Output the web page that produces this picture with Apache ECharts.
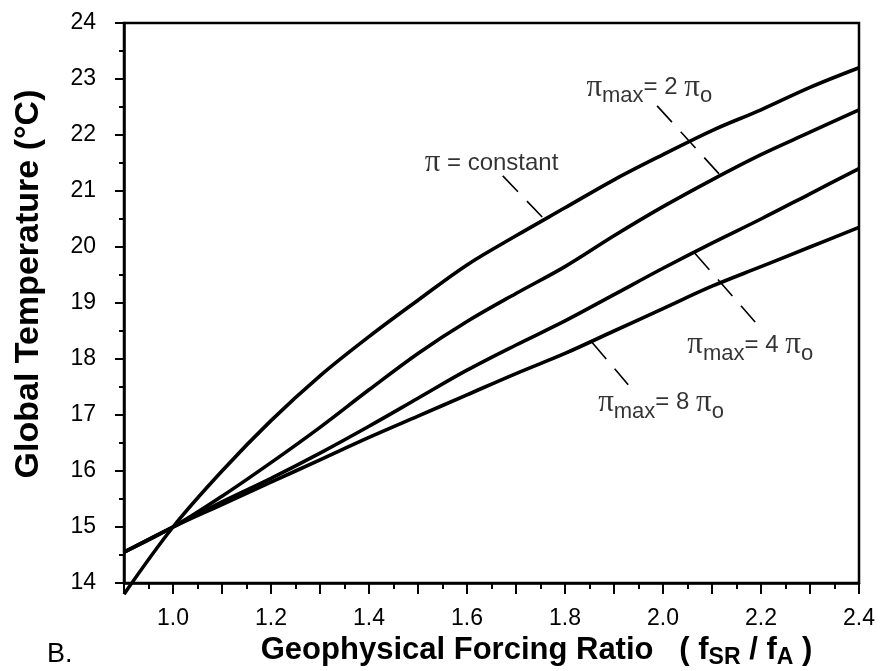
<!DOCTYPE html>
<html><head><meta charset="utf-8">
<script src="https://cdn.jsdelivr.net/npm/echarts@6/dist/echarts.min.js"></script>
<style>html,body{margin:0;padding:0;background:#fff}#c{width:880px;height:671px}</style>
</head><body><div id="c"></div>
<script>
// Geophysical forcing ratio (x)
const ratio = [0.9,1.0,1.1,1.2,1.3,1.4,1.5,1.6,1.7,1.8,1.9,2.0,2.1,2.2,2.3,2.4];
// Global temperature (°C) for each case
const piConstant = [13.8,15.0,16.0,16.9,17.7,18.4,19.05,19.68,20.2,20.7,21.2,21.65,22.08,22.45,22.85,23.2];
const piMax2 = [14.55,15.0,15.55,16.15,16.78,17.45,18.1,18.67,19.17,19.65,20.2,20.72,21.2,21.65,22.05,22.45];
const piMax4 = [14.55,15.0,15.45,15.87,16.32,16.8,17.3,17.8,18.25,18.68,19.15,19.62,20.07,20.5,20.95,21.4];
const piMax8 = [14.55,15.0,15.4,15.8,16.2,16.6,16.98,17.36,17.74,18.1,18.5,18.9,19.3,19.65,20.0,20.35];

// Annotation texts and their anchor points (data coordinates)
const labelTexts = ['{p|π}{t| = constant}', '{p|π}{s|max}{t|= 2 }{p|π}{s|o}', '{p|π}{s|max}{t|= 4 }{p|π}{s|o}', '{p|π}{s|max}{t|= 8 }{p|π}{s|o}'];
const labelAnchors = [[1.65,21.5],[1.972,22.85],[2.178,18.25],[1.996,17.22]];
// Dashed leader lines (data coordinates)
const pointers = [
  [[1.673,21.27],[1.755,20.52]],
  [[1.988,22.52],[2.116,21.29]],
  [[2.065,19.89],[2.188,18.66]],
  [[1.855,18.30],[1.929,17.54]]
];

const FONT = "'Liberation Sans', Arial, Helvetica, sans-serif";
const chart = echarts.init(document.getElementById('c'), null, {renderer:'canvas'});

function curve(vals){
  return {
    type:'line', data: ratio.map((x,i)=>[x, vals[i]]), smooth:0.35, symbol:'none', clip:false,
    lineStyle:{color:'#000', width:3.6}, silent:true, z:3
  };
}
const series = [curve(piConstant), curve(piMax2), curve(piMax4), curve(piMax8)];
pointers.forEach(p=>{
  series.push({type:'line', data:p, symbol:'none', silent:true, z:2,
    lineStyle:{color:'#000', width:1.6, type:[22,13]}});
});
series.push({
  type:'scatter', symbolSize:1, itemStyle:{color:'rgba(0,0,0,0)'}, silent:true, z:4,
  data: labelAnchors.map((a,i)=>({value:a, label:{formatter: labelTexts[i]}})),
  label:{
    show:true, position:'inside', color:'#000', fontFamily:FONT,
    rich:{
      p:{fontFamily:"'Liberation Serif','DejaVu Serif',serif", fontSize:31, color:'#000'},
      s:{fontFamily:FONT, fontSize:22, padding:[18,0,0,0], color:'#000'},
      t:{fontFamily:FONT, fontSize:24, color:'#000'}
    }
  }
});

chart.setOption({
  animation:false,
  backgroundColor:'#fff',
  title:{text:'B.', left:42, top:636, textStyle:{fontFamily:FONT, fontSize:27, fontWeight:'normal', color:'#000'}},
  grid:{left:124, right:21, top:23, bottom:88, outerBoundsMode:'none', containLabel:false,
    show:true, borderColor:'#000', borderWidth:2.5, backgroundColor:'transparent'},
  xAxis:{
    type:'value', min:0.9, max:2.4, interval:0.1,
    axisLine:{lineStyle:{color:'#000', width:2.5}},
    axisTick:{show:true, length:11, inside:false, lineStyle:{color:'#000', width:2}},
    minorTick:{show:true, splitNumber:2, length:6, lineStyle:{color:'#000', width:2}},
    splitLine:{show:false},
    axisLabel:{color:'#000', fontFamily:FONT, fontSize:23, margin:24,
      formatter:v=> (Math.round(v*10)%2===0 ? v.toFixed(1) : '')},
    name:'{b|Geophysical Forcing Ratio   ( f}{s|SR}{b| / f}{s|A}{b| )}',
    nameLocation:'middle', nameGap:49,
    nameTextStyle:{padding:[0,0,0,90],
      rich:{
        b:{fontFamily:FONT, fontSize:31, fontWeight:'bold', color:'#000'},
        s:{fontFamily:FONT, fontSize:23, fontWeight:'bold', color:'#000', padding:[14,0,0,0]}
      }}
  },
  yAxis:{
    type:'value', min:14, max:24, interval:1,
    axisLine:{show:true, lineStyle:{color:'#000', width:2.5}},
    axisTick:{show:true, length:9, inside:false, lineStyle:{color:'#000', width:2}},
    minorTick:{show:true, splitNumber:2, length:5, lineStyle:{color:'#000', width:2}},
    splitLine:{show:false},
    axisLabel:{color:'#000', fontFamily:FONT, fontSize:23, margin:28},
    name:'Global Temperature (°C)', nameLocation:'middle', nameGap:78,
    nameTextStyle:{fontFamily:FONT, fontSize:34, fontWeight:'bold', color:'#000', padding:[0,0,0,38]}
  },
  series: series
});
</script></body></html>
